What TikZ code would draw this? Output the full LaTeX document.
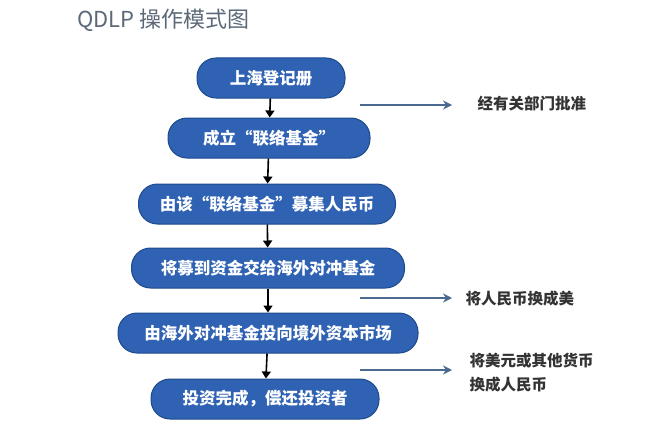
\documentclass[tikz,border=0pt]{standalone}
\usepackage{fontspec}
\setmainfont{Noto Sans CJK SC}
\usetikzlibrary{arrows.meta}
\definecolor{boxblue}{HTML}{2F62B3}
\definecolor{boxedge}{HTML}{1E4A8C}
\definecolor{sidecol}{HTML}{4A6A90}
\definecolor{titlecol}{HTML}{5A6878}
\tikzset{
  stepbox/.style={rounded corners=19pt, fill=boxblue, draw=boxedge, line width=1pt, text=white, font=\fontsize{16.5}{18}\selectfont\bfseries, minimum height=40pt, inner sep=0pt},
  downarrow/.style={-{Triangle[length=7pt,width=9pt]}, line width=1.6pt, black},
  sidearrow/.style={-{Stealth[length=9pt,width=9pt]}, line width=1.6pt, sidecol},
  sidetext/.style={text=black!80, font=\fontsize{15.5}{24}\selectfont\bfseries, align=left, anchor=west}
}
\begin{document}
\begin{tikzpicture}[x=1pt,y=-1pt]
\useasboundingbox (0,0) rectangle (648,436);
\node[anchor=west, text=titlecol, font=\fontsize{22}{24}\selectfont] (title) at (74,20) {QDLP 操作模式图};
\node[stepbox, minimum width=148pt] (n1) at (271,78) {上海登记册};
\node[stepbox, minimum width=202pt] (n2) at (269,138) {成立“联络基金”};
\node[stepbox, minimum width=257pt] (n3) at (267,204) {由该“联络基金”募集人民币};
\node[stepbox, minimum width=273pt] (n4) at (268,268) {将募到资金交给海外对冲基金};
\node[stepbox, minimum width=300pt] (n5) at (268,333) {由海外对冲基金投向境外资本市场};
\node[stepbox, minimum width=228pt] (n6) at (265,399) {投资完成，偿还投资者};
\draw[downarrow] (n1) -- (n2);
\draw[downarrow] (n2) -- (n3);
\draw[downarrow] (n3) -- (n4);
\draw[downarrow] (n4) -- (n5);
\draw[downarrow] (n5) -- (n6);
\node[sidetext] (t1) at (474,104) {经有关部门批准};
\node[sidetext] (t2) at (462,299) {将人民币换成美};
\node[sidetext] (t3) at (466,373) {将美元或其他货币\\换成人民币};
\coordinate (s1) at (360,105);
\coordinate (s2) at (360,298);
\coordinate (s3) at (360,370);
\draw[sidearrow] (s1) -- (452,105);
\draw[sidearrow] (s2) -- (452,298);
\draw[sidearrow] (s3) -- (452,370);
\end{tikzpicture}
\end{document}
